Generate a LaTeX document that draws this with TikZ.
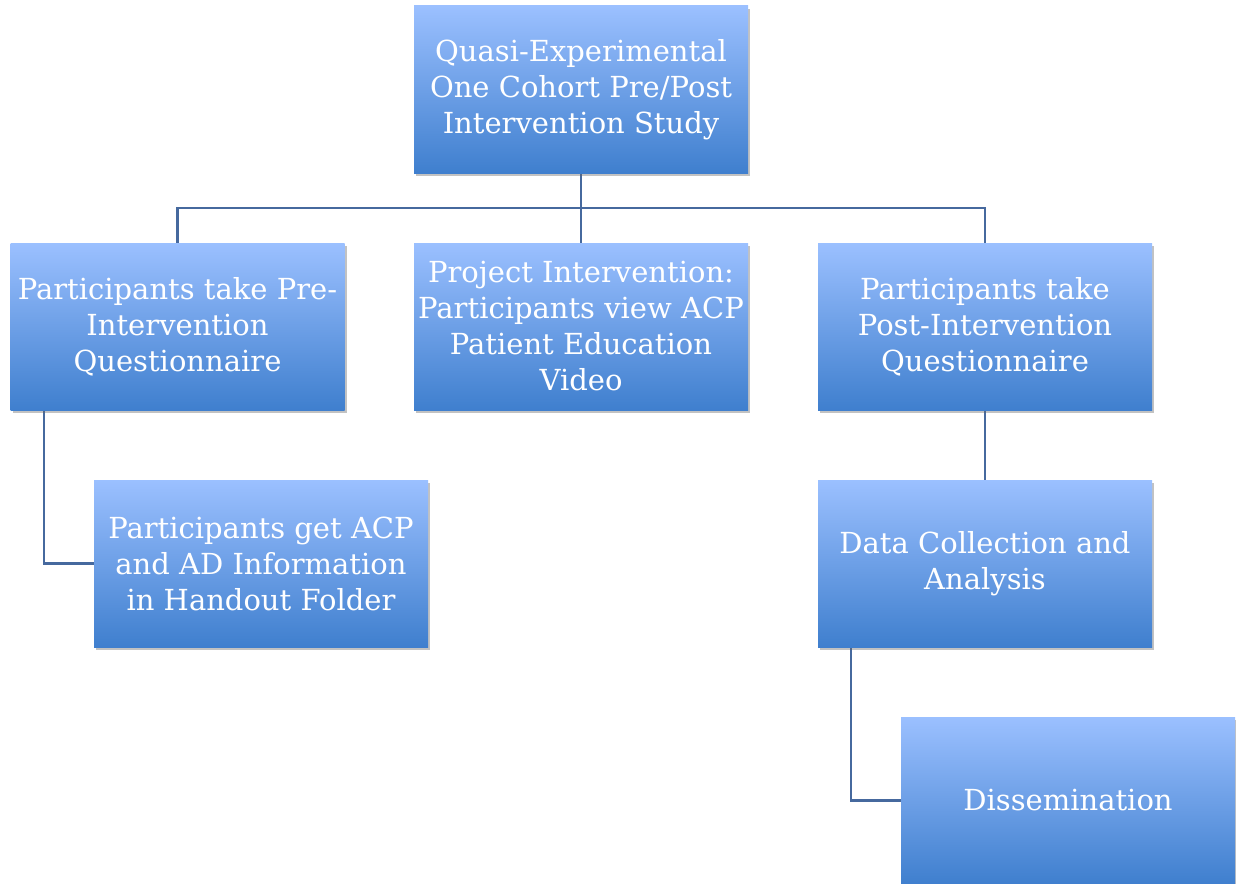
\documentclass[tikz,border=0pt]{standalone}
\usepackage{fontspec}
\setmainfont{DejaVu Serif}
\usetikzlibrary{shadows, backgrounds}
\definecolor{boxtop}{HTML}{9BC0FF}
\definecolor{boxbot}{HTML}{3F7FCE}
\definecolor{linkblue}{HTML}{46699E}

\begin{document}
\begin{tikzpicture}[x=1pt, y=-1pt,
  stagebox/.style={minimum width=334pt, minimum height=167pt, inner sep=0pt,
    top color=boxtop, bottom color=boxbot, text=white, align=center,
    font=\fontsize{29}{36}\selectfont,
    drop shadow={shadow xshift=2pt, shadow yshift=-3pt, opacity=0.4, fill=black!60}},
  link/.style={linkblue, line width=2.2pt}]

  \useasboundingbox[clip] (0,0) rectangle (1236,883);

  %% design box
  \node[stagebox] (design) at (581,89.5)
    {Quasi-Experimental\\One Cohort Pre/Post\\Intervention Study};

  %% three stages
  \node[stagebox] (pre) at (177.5,326.5)
    {Participants take Pre-\\Intervention\\Questionnaire};
  \node[stagebox] (video) at (581,326.5)
    {Project Intervention:\\Participants view ACP\\Patient Education\\Video};
  \node[stagebox] (post) at (985,326.5)
    {Participants take\\Post-Intervention\\Questionnaire};

  %% follow-up boxes
  \node[stagebox] (handout) at (261,563.5)
    {Participants get ACP\\and AD Information\\in Handout Folder};
  \node[stagebox] (analysis) at (985,563.5)
    {Data Collection and\\Analysis};
  \node[stagebox] (dissem) at (1068,800.5) {Dissemination};

  %% connectors
  \begin{scope}[on background layer]
    \draw[link] (design.south) -- (video.north);
    \draw[link] (pre.north) -- ++(0,-35) -| (post.north);
    \draw[link] ([xshift=34pt]pre.south west) |- (handout.west);
    \draw[link] (post.south) -- (analysis.north);
    \draw[link] ([xshift=33pt]analysis.south west) |- (dissem.west);
  \end{scope}

\end{tikzpicture}
\end{document}
